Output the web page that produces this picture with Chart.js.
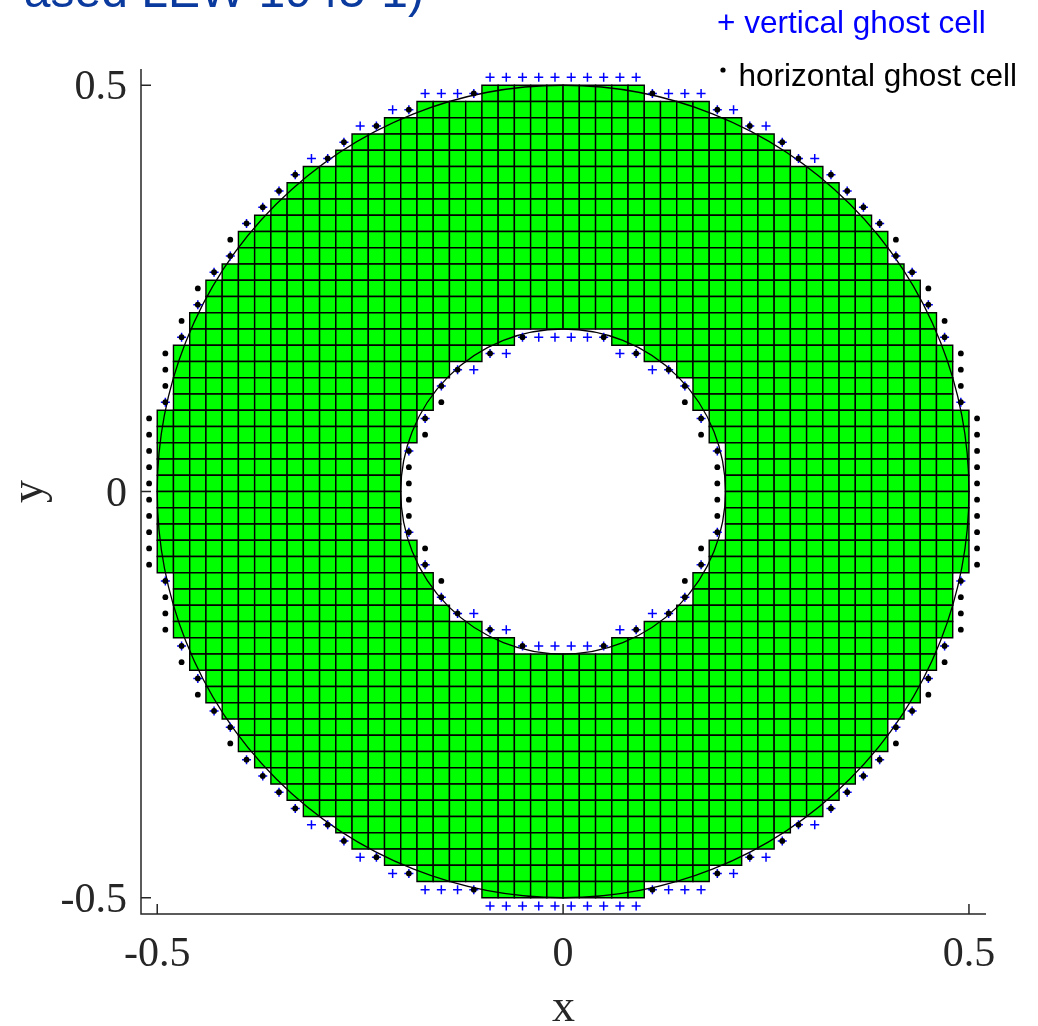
<!DOCTYPE html>
<html><head><meta charset="utf-8">
<script src="https://cdn.jsdelivr.net/npm/chart.js@4.4.0/dist/chart.umd.min.js"></script>
<style>html,body{margin:0;padding:0;background:#fff;overflow:hidden}canvas{display:block}</style>
</head><body>
<canvas id="c" width="1038" height="1026"></canvas>
<script>
// ---- text ----
const titleText = 'ased LEW 1945-1)';
const legendLabels = ['+ vertical ghost cell', 'horizontal ghost cell'];
const xAxisLabel = 'x';
const yAxisLabel = 'y';
// ---- ticks ----
const xTickValues = [-0.5, 0, 0.5];
const xTickLabels = ['-0.5', '0', '0.5'];
const yTickValues = [-0.5, 0, 0.5];
const yTickLabels = ['-0.5', '0', '0.5'];
// ---- grid (cell centres, one ring of ghost positions included) ----
const colCenters = [-0.51,-0.49,-0.47,-0.45,-0.43,-0.41,-0.39,-0.37,-0.35,-0.33,-0.31,-0.29,-0.27,-0.25,-0.23,-0.21,-0.19,-0.17,-0.15,-0.13,-0.11,-0.09,-0.07,-0.05,-0.03,-0.01,
                    0.01,0.03,0.05,0.07,0.09,0.11,0.13,0.15,0.17,0.19,0.21,0.23,0.25,0.27,0.29,0.31,0.33,0.35,0.37,0.39,0.41,0.43,0.45,0.47,0.49,0.51];
const rowCenters = [0.51,0.49,0.47,0.45,0.43,0.41,0.39,0.37,0.35,0.33,0.31,0.29,0.27,0.25,0.23,0.21,0.19,0.17,0.15,0.13,0.11,0.09,0.07,0.05,0.03,0.01,
                    -0.01,-0.03,-0.05,-0.07,-0.09,-0.11,-0.13,-0.15,-0.17,-0.19,-0.21,-0.23,-0.25,-0.27,-0.29,-0.31,-0.33,-0.35,-0.37,-0.39,-0.41,-0.43,-0.45,-0.47,-0.49,-0.51];
// number of green cells on each side of x=0 (outer edge), per row
const outerHalfCount = [0,5,9,11,13,14,16,17,18,19,20,20,21,22,22,23,23,24,24,24,24,25,25,25,25,25,
                        25,25,25,25,25,24,24,24,24,23,23,22,22,21,20,20,19,18,17,16,14,13,11,9,5,0];
// number of empty (hole) cells on each side of x=0, per row
const innerHalfCount = [0,0,0,0,0,0,0,0,0,0,0,0,0,0,0,0,3,5,7,8,8,9,9,10,10,10,
                        10,10,10,9,9,8,8,7,5,3,0,0,0,0,0,0,0,0,0,0,0,0,0,0,0,0];
const cellSize = 0.02;
const circleRadii = [0.5, 0.2];

// ---- build datasets from the arrays ----
const nR = rowCenters.length, nC = colCenters.length;
const halfIdx = c => (c < nC / 2 ? nC / 2 - c : c - nC / 2 + 1);
const isFluid = (r, c) => r >= 0 && r < nR && c >= 0 && c < nC &&
  halfIdx(c) <= outerHalfCount[r] && halfIdx(c) > innerHalfCount[r];
const cellPts = [], vPts = [], hPts = [];
for (let r = 0; r < nR; r++) {
  for (let c = 0; c < nC; c++) {
    const p = {x: colCenters[c], y: rowCenters[r]};
    if (isFluid(r, c)) { cellPts.push(p); continue; }
    if (isFluid(r - 1, c) || isFluid(r + 1, c)) vPts.push(p);
    if (isFluid(r, c - 1) || isFluid(r, c + 1)) hPts.push(p);
  }
}

const AX = '#262626';
const serif = '"Liberation Serif","Times New Roman",serif';
const sans = '"Liberation Sans",Arial,Helvetica,sans-serif';

function cellRadius(chart) {
  const s = chart.scales.x;
  if (!s) return 8;
  const side = Math.abs(s.getPixelForValue(cellSize) - s.getPixelForValue(0));
  return side / Math.SQRT2;
}

const annulusPlugin = {
  id: 'annulus',
  afterDatasetDraw(chart, args) {
    if (args.index !== 0) return;
    const {ctx, scales: {x, y}} = chart;
    const cx = x.getPixelForValue(0), cy = y.getPixelForValue(0);
    ctx.save();
    ctx.strokeStyle = '#000';
    ctx.lineWidth = 1.3;
    circleRadii.forEach(r => {
      const rx = Math.abs(x.getPixelForValue(r) - cx);
      const ry = Math.abs(y.getPixelForValue(r) - cy);
      ctx.beginPath();
      ctx.ellipse(cx, cy, rx, ry, 0, 0, Math.PI * 2);
      ctx.stroke();
    });
    ctx.restore();
  },
  afterDraw(chart) {
    const {ctx, chartArea: a, scales: {x, y}} = chart;
    ctx.save();
    ctx.strokeStyle = AX;
    ctx.lineWidth = 1.5;
    ctx.beginPath();
    ctx.moveTo(a.left, a.top); ctx.lineTo(a.left, a.bottom); ctx.lineTo(a.right, a.bottom);
    ctx.stroke();
    ctx.beginPath();
    yTickValues.forEach(v => { const py = y.getPixelForValue(v); ctx.moveTo(a.left, py); ctx.lineTo(a.left + 10, py); });
    xTickValues.forEach(v => { const px = x.getPixelForValue(v); ctx.moveTo(px, a.bottom); ctx.lineTo(px, a.bottom - 10); });
    ctx.stroke();
    // title (partly outside the page, as in the original)
    ctx.font = '48px ' + sans;
    ctx.fillStyle = '#0b3a9e';
    ctx.textAlign = 'right';
    ctx.textBaseline = 'alphabetic';
    ctx.fillText(titleText, 424, 6.5);
    // legend
    ctx.font = '31.5px ' + sans;
    ctx.textAlign = 'left';
    ctx.fillStyle = '#0000ff';
    ctx.fillText(legendLabels[0], 717, 32.5);
    ctx.fillStyle = '#000000';
    ctx.beginPath();
    ctx.arc(723, 70, 2.6, 0, Math.PI * 2);
    ctx.fill();
    ctx.fillText(legendLabels[1], 738.5, 86);
    ctx.restore();
  }
};

new Chart(document.getElementById('c'), {
  type: 'scatter',
  data: {
    datasets: [
      {label: 'cells', data: cellPts, order: 3, pointStyle: 'rect',
       backgroundColor: '#00ff00', borderColor: '#000', borderWidth: 1.4,
       radius: c => cellRadius(c.chart), hoverRadius: c => cellRadius(c.chart)},
      {label: 'vertical ghost cell', data: vPts, order: 2, pointStyle: 'cross',
       borderColor: '#0000ff', backgroundColor: '#0000ff', borderWidth: 1.5, radius: 4.5},
      {label: 'horizontal ghost cell', data: hPts, order: 1, pointStyle: 'circle',
       borderColor: '#000', backgroundColor: '#000', borderWidth: 0, radius: 2.9}
    ]
  },
  options: {
    responsive: false, animation: false, devicePixelRatio: 1, events: [],
    layout: {padding: {top: 69, right: 52, left: 0, bottom: 0}},
    plugins: {legend: {display: false}, tooltip: {enabled: false}},
    scales: {
      x: {
        type: 'linear', position: 'bottom', min: -0.52, max: 0.521,
        afterBuildTicks: s => { s.ticks = xTickValues.map(v => ({value: v})); },
        afterFit: s => { s.height = 112; },
        grid: {display: false, drawTicks: false}, border: {display: false},
        ticks: {padding: 16, color: AX, autoSkip: false, maxRotation: 0, minRotation: 0,
                font: {family: serif, size: 42}, callback: (v, i) => xTickLabels[i]},
        title: {display: true, text: xAxisLabel, color: AX,
                font: {family: serif, size: 46, lineHeight: 0.75}, padding: {top: 0, bottom: 0}}
      },
      y: {
        type: 'linear', position: 'left', min: -0.52, max: 0.52,
        afterBuildTicks: s => { s.ticks = yTickValues.map(v => ({value: v})); },
        afterFit: s => { s.width = 141; },
        grid: {display: false, drawTicks: false}, border: {display: false},
        ticks: {padding: 14, color: AX, autoSkip: false, labelOffset: 3,
                font: {family: serif, size: 42}, callback: (v, i) => yTickLabels[i]},
        title: {display: true, text: yAxisLabel, color: AX,
                font: {family: serif, size: 46, lineHeight: 0.75}, padding: {top: 13, bottom: 0}}
      }
    }
  }
  ,plugins: [annulusPlugin]
});
</script>
</body></html>
